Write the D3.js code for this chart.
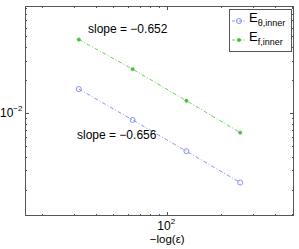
<!DOCTYPE html>
<html>
<head>
<meta charset="utf-8">
<script src="https://cdn.jsdelivr.net/npm/d3@7"></script>
<style>
body { margin: 0; background: #fff; }
text { font-family: "Liberation Sans", Arial, sans-serif; fill: #000; }
</style>
</head>
<body>
<div id="chart"></div>
<script>
// data
const xVals = [32, 64, 128, 256]
const eTheta = [0.01652, 0.00864, 0.00448, 0.00232]
const eF = [0.0467, 0.0251, 0.01294, 0.00662]
const seriesNames = ['θ,inner', 'f,inner']
const slopeLabels = ['slope = \u22120.652', 'slope = \u22120.656']
const xMajor = [100]
const xMinor = [20, 30, 40, 50, 60, 70, 80, 90, 200, 300, 400, 500]
const yMajor = [0.01]
const yMinor = [0.002, 0.003, 0.004, 0.005, 0.006, 0.007, 0.008, 0.009,
    0.02, 0.03, 0.04, 0.05, 0.06, 0.07, 0.08, 0.09]

const W = 299, H = 249
const m = { left: 25, right: 5, top: 6, bottom: 33 }
const blue = '#6b78f0', green = '#45c23a', axisCol = '#555'

const svg = d3.select('#chart').append('svg')
    .attr('width', W).attr('height', H)

const x = d3.scaleLog().domain([16, 512]).range([m.left, W - m.right])
const y = d3.scaleLog().domain([0.00115, 0.0944]).range([H - m.bottom, m.top])

// inward ticks on all four sides, like a matlab box
const gx = svg.append('g').attr('stroke', axisCol).attr('stroke-width', 1)
xMajor.map(v => [v, 4]).concat(xMinor.map(v => [v, 2])).forEach(([v, len]) => {
    const px = Math.round(x(v)) + 0.5
    gx.append('line').attr('x1', px).attr('x2', px)
        .attr('y1', y.range()[0]).attr('y2', y.range()[0] - len)
    gx.append('line').attr('x1', px).attr('x2', px)
        .attr('y1', y.range()[1]).attr('y2', y.range()[1] + len)
})
const gy = svg.append('g').attr('stroke', axisCol).attr('stroke-width', 1)
yMajor.map(v => [v, 4]).concat(yMinor.map(v => [v, 2])).forEach(([v, len]) => {
    const py = Math.round(y(v)) + 0.5
    gy.append('line').attr('y1', py).attr('y2', py)
        .attr('x1', x.range()[0]).attr('x2', x.range()[0] + len)
    gy.append('line').attr('y1', py).attr('y2', py)
        .attr('x1', x.range()[1]).attr('x2', x.range()[1] - len)
})

svg.append('rect')
    .attr('x', m.left + 0.5).attr('y', m.top + 0.5)
    .attr('width', W - m.left - m.right - 1).attr('height', H - m.top - m.bottom - 1)
    .attr('fill', 'none').attr('stroke', axisCol)

// tick labels
xMajor.forEach(v => {
    const t = svg.append('text').attr('x', x(v) - 1).attr('y', y.range()[0] + 14)
        .attr('text-anchor', 'middle').attr('font-size', 12)
    t.append('tspan').text('10')
    t.append('tspan').attr('dy', -6).attr('font-size', 8).text(Math.round(Math.log10(v)))
})
yMajor.forEach(v => {
    const t = svg.append('text').attr('x', 0).attr('y', y(v) + 4)
        .attr('font-size', 12)
    t.append('tspan').text('10')
    t.append('tspan').attr('dy', -6).attr('font-size', 8).text('\u2212' + Math.abs(Math.round(Math.log10(v))))
})
svg.append('text').attr('x', x(100)).attr('y', 243)
    .attr('text-anchor', 'middle').attr('font-size', 11.5).text('\u2212log(\u03b5)')

// series
const line = d3.line().x(d => x(d[0])).y(d => y(d[1]))
const series = [
    { vals: eTheta, color: blue, marker: 'circle' },
    { vals: eF, color: green, marker: 'dot' }
]
series.forEach(s => {
    const pts = xVals.map((v, i) => [v, s.vals[i]])
    svg.append('path').datum(pts).attr('d', line)
        .attr('fill', 'none').attr('stroke', s.color).attr('stroke-width', 0.8)
        .attr('stroke-dasharray', '4,2,1,2')
    svg.selectAll(null).data(pts).enter().append('circle')
        .attr('cx', d => x(d[0])).attr('cy', d => y(d[1]))
        .attr('r', s.marker === 'circle' ? 2.5 : 1.6)
        .attr('fill', s.marker === 'circle' ? 'none' : s.color)
        .attr('stroke', s.color).attr('stroke-width', 0.8)
})

// slope notes
svg.append('text').attr('x', 88).attr('y', 33).attr('font-size', 12).text(slopeLabels[0])
svg.append('text').attr('x', 77).attr('y', 139).attr('font-size', 12).text(slopeLabels[1])

// legend
const lg = svg.append('g')
lg.append('rect').attr('x', 229.5).attr('y', 9.5).attr('width', 62).attr('height', 42)
    .attr('fill', '#fff').attr('stroke', axisCol)
series.forEach((s, i) => {
    const ly = 21 + i * 19
    lg.append('line').attr('x1', 232).attr('x2', 246).attr('y1', ly).attr('y2', ly)
        .attr('stroke', s.color).attr('stroke-width', 0.8).attr('stroke-dasharray', '3,1.5,1,1.5')
    lg.append('circle').attr('cx', 239).attr('cy', ly)
        .attr('r', s.marker === 'circle' ? 2.5 : 1.6)
        .attr('fill', s.marker === 'circle' ? 'none' : s.color)
        .attr('stroke', s.color).attr('stroke-width', 0.8)
    const t = lg.append('text').attr('x', 249).attr('y', ly + 1).attr('font-size', 13)
    t.append('tspan').text('E')
    t.append('tspan').attr('dy', 4).attr('font-size', 9).text(seriesNames[i])
})
</script>
</body>
</html>
